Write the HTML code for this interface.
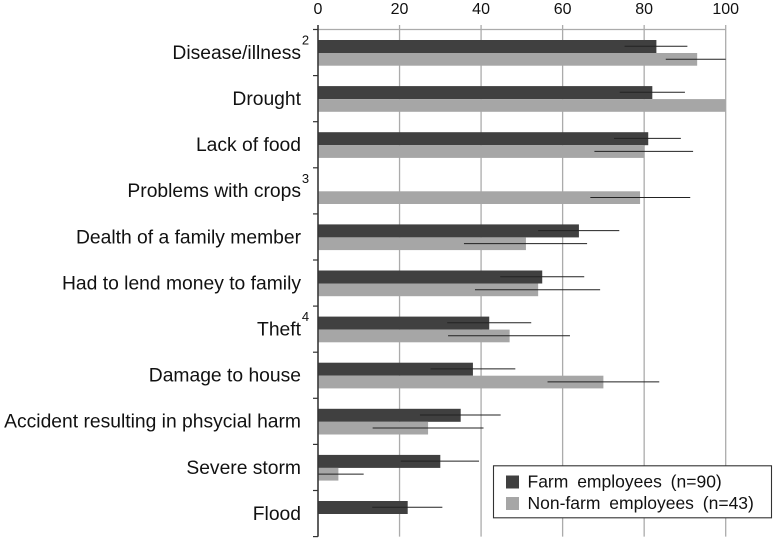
<!DOCTYPE html>
<html><head><meta charset="utf-8">
<style>
html,body{margin:0;padding:0;background:#fff;width:774px;height:538px;overflow:hidden}
svg{display:block;font-family:"Liberation Sans",sans-serif}
</style></head>
<body>
<svg id="chart" width="774" height="538" viewBox="0 0 774 538" xmlns="http://www.w3.org/2000/svg"></svg>
<script>
const categories = ["Disease/illness","Drought","Lack of food","Problems with crops","Dealth of a family member","Had to lend money to family","Theft","Damage to house","Accident resulting in phsycial harm","Severe storm","Flood"];
const footnotes = ["2","","","3","","","4","","","",""];
const farmValues = [83,82,81,null,64,55,42,38,35,30,22];
const nonFarmValues = [93,100,80,79,51,54,47,70,27,5,null];
const farmLow = [75.2,74,72.6,null,54,44.7,31.7,27.6,25,20.3,13.3];
const farmHigh = [90.6,90,89,null,73.9,65.3,52.3,48.4,44.8,39.5,30.5];
const nonFarmLow = [85.3,null,67.8,66.8,35.8,38.5,31.9,56.3,13.4,0,null];
const nonFarmHigh = [100,null,92,91.3,66,69.2,61.8,83.7,40.6,11.2,null];
const xTicks = [0,20,40,60,80,100];
const legendLabels = ["Farm employees (n=90)","Non-farm employees (n=43)"];

const NS = "http://www.w3.org/2000/svg";
const svg = document.getElementById("chart");
const X0 = 318, PX = 4.077, TOP = 29.5, BAND = 46.1, BOTTOM = TOP + BAND * categories.length;
const DARK = "#404040", LIGHT = "#a6a6a6", GRID = "#ababab";
function xs(v){ return X0 + v * PX; }
function ys(i){ return TOP + i * BAND; }
function mk(tag, attrs, parent){
  const el = document.createElementNS(NS, tag);
  for (const k in attrs) el.setAttribute(k, attrs[k]);
  (parent || svg).appendChild(el);
  return el;
}

// gridlines and tick labels
xTicks.forEach(function(t){
  const g = mk("line", {x1: xs(t), x2: xs(t), y1: 25, y2: BOTTOM, stroke: GRID, "stroke-width": 1.3});
  
  
  const l = mk("text", {x: xs(t), y: 14, "text-anchor": "middle", "font-size": 16, fill: "#111"});
  
  
  l.textContent = t;
});
const topLine = mk("line", {x1: X0, x2: xs(100), y1: TOP, y2: TOP, stroke: GRID, "stroke-width": 1.3});



// bars
categories.forEach(function(c, i){
  if (farmValues[i] !== null) {
    const b = mk("rect", {x: X0, y: ys(i) + 10.5, width: xs(farmValues[i]) - X0, height: 13, fill: DARK});
    
    
  }
  if (nonFarmValues[i] !== null) {
    const b = mk("rect", {x: X0, y: ys(i) + 23.5, width: xs(nonFarmValues[i]) - X0, height: 12.7, fill: LIGHT});
    
    
  }
});

// error bars
categories.forEach(function(c, i){
  if (farmLow[i] !== null) {
    const e = mk("line", {x1: xs(farmLow[i]), x2: xs(farmHigh[i]), y1: ys(i) + 16.7, y2: ys(i) + 16.7, stroke: "#222", "stroke-width": 1});
    
    
  }
  if (nonFarmLow[i] !== null) {
    const e = mk("line", {x1: xs(nonFarmLow[i]), x2: xs(nonFarmHigh[i]), y1: ys(i) + 29.7, y2: ys(i) + 29.7, stroke: "#222", "stroke-width": 1});
    
    
  }
});

// category axis
const axis = mk("line", {x1: X0, x2: X0, y1: 25, y2: BOTTOM, stroke: "#333", "stroke-width": 1.5});


for (let i = 0; i <= categories.length; i++) {
  const t = mk("line", {x1: X0 - 5, x2: X0, y1: ys(i), y2: ys(i), stroke: "#333", "stroke-width": 1.2});
  
  
}
categories.forEach(function(c, i){
  const l = mk("text", {x: 301, y: ys(i) + 29.4, "text-anchor": "end", "font-size": 19.3, fill: "#111"});
  
  
  l.textContent = c;
  if (footnotes[i]) {
    const f = mk("text", {x: 305.5, y: ys(i) + 15, "text-anchor": "middle", "font-size": 13, fill: "#111"});
    
    
    f.textContent = footnotes[i];
  }
});

// legend
const box = mk("rect", {x: 493.5, y: 465.8, width: 278, height: 52, fill: "#fff", stroke: "#333", "stroke-width": 1.1});


[DARK, LIGHT].forEach(function(col, i){
  const s = mk("rect", {x: 506, y: 475.5 + i * 21.5, width: 13, height: 13, fill: col});
  
  
  const l = mk("text", {x: 527.5, y: 487.7 + i * 21.5, "font-size": 17.5, "word-spacing": 4, fill: "#111"});
  
  
  l.textContent = legendLabels[i];
});
</script>
</body></html>
